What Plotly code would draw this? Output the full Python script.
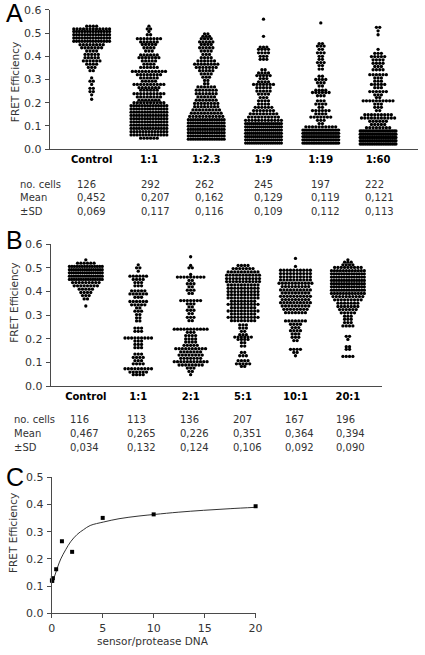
import plotly.graph_objects as go

W, H = 425, 655

# ---------------- data ----------------
a_categories = ["Control", "1:1", "1:2.3", "1:9", "1:19", "1:60"]
a_n = ["126", "292", "262", "245", "197", "222"]
a_mean = ["0,452", "0,207", "0,162", "0,129", "0,119", "0,121"]
a_sd = ["0,069", "0,117", "0,116", "0,109", "0,112", "0,113"]

# rows of dots: (FRET value of the row, number of dots in that row)
a_control = [(0.530,4),(0.518,12),(0.507,14),(0.493,14),(0.479,14),(0.465,14),(0.450,8),(0.437,7),(0.423,4),
             (0.408,5),(0.394,5),(0.380,6),(0.366,4),(0.352,3),(0.338,2),(0.307,1),(0.293,2),(0.279,1),
             (0.262,2),(0.248,2),(0.234,1),(0.215,1)]
a_1_1 = [(0.530,1),(0.518,2),(0.507,1),(0.493,2),(0.476,8),(0.462,6),(0.451,5),(0.437,4),(0.423,3),(0.406,6),
         (0.394,7),(0.380,5),(0.366,4),(0.352,6),(0.335,11),(0.321,8),(0.307,6),(0.293,5),(0.279,10),(0.265,7),
         (0.254,6),(0.239,10),(0.225,8),(0.211,7),(0.200,10),(0.187,14),(0.173,14),(0.159,14),(0.145,14),
         (0.131,14),(0.117,14),(0.103,14),(0.089,14),(0.075,13),(0.061,13),(0.047,6)]
a_1_2_3 = [(0.497,2),(0.486,3),(0.476,4),(0.462,5),(0.451,4),(0.437,5),(0.423,4),(0.408,3),(0.394,4),(0.380,6),
           (0.366,8),(0.352,7),(0.338,5),(0.324,4),(0.310,3),(0.296,2),(0.282,2),(0.268,6),(0.254,7),(0.239,7),
           (0.225,6),(0.211,7),(0.197,8),(0.183,8),(0.169,9),(0.155,10),(0.141,11),(0.127,16),(0.113,16),
           (0.099,16),(0.085,16),(0.071,16),(0.057,16),(0.043,16)]
a_1_9 = [(0.560,1),(0.486,1),(0.440,3),(0.430,4),(0.415,4),(0.400,3),(0.387,3),(0.342,2),(0.328,4),(0.317,5),
         (0.304,3),(0.290,4),(0.279,7),(0.265,5),(0.250,5),(0.237,4),(0.222,3),(0.208,4),(0.194,4),(0.180,6),
         (0.166,7),(0.152,9),(0.138,10),(0.124,12),(0.110,19),(0.096,19),(0.082,19),(0.068,19),(0.054,19),
         (0.040,19),(0.026,18)]
a_1_19 = [(0.544,1),(0.455,2),(0.444,3),(0.430,2),(0.415,3),(0.400,2),(0.387,2),(0.373,3),(0.360,2),(0.345,2),
          (0.314,2),(0.300,4),(0.286,3),(0.272,2),(0.254,4),(0.244,6),(0.230,3),(0.208,3),(0.194,4),(0.180,2),
          (0.166,6),(0.152,4),(0.138,7),(0.124,3),(0.110,2),(0.096,10),(0.082,22),(0.068,22),(0.054,22),
          (0.040,22),(0.026,22)]
a_1_60 = [(0.525,2),(0.510,1),(0.493,1),(0.430,1),(0.413,3),(0.399,5),(0.385,4),(0.370,4),(0.356,3),(0.342,4),
          (0.321,6),(0.307,3),(0.293,3),(0.279,5),(0.265,3),(0.248,6),(0.234,3),(0.222,2),(0.208,10),(0.194,3),
          (0.180,3),(0.166,2),(0.148,9),(0.134,11),(0.120,6),(0.106,5),(0.092,8),(0.078,22),(0.064,21),
          (0.050,21),(0.036,21),(0.022,21)]

b_categories = ["Control", "1:1", "2:1", "5:1", "10:1", "20:1"]
b_n = ["116", "113", "136", "207", "167", "196"]
b_mean = ["0,467", "0,265", "0,226", "0,351", "0,364", "0,394"]
b_sd = ["0,034", "0,132", "0,124", "0,106", "0,092", "0,090"]

b_control = [(0.534,1),(0.520,6),(0.506,14),(0.492,16),(0.479,16),(0.465,16),(0.451,15),(0.438,9),(0.424,8),
             (0.410,5),(0.396,4),(0.383,3),(0.369,2),(0.339,1)]
b_1_1 = [(0.513,1),(0.500,2),(0.486,1),(0.465,6),(0.451,4),(0.438,3),(0.424,3),(0.403,5),(0.390,6),(0.376,3),
         (0.358,6),(0.344,5),(0.331,2),(0.317,3),(0.303,2),(0.289,2),(0.276,2),(0.246,3),(0.232,3),(0.204,9),
         (0.191,3),(0.177,3),(0.163,3),(0.136,3),(0.122,4),(0.108,3),(0.095,4),(0.074,9),(0.060,6),(0.049,4)]
b_2_1 = [(0.547,1),(0.510,1),(0.500,2),(0.472,1),(0.461,9),(0.447,2),(0.433,3),(0.420,2),(0.406,3),(0.392,2),
         (0.362,7),(0.348,3),(0.335,2),(0.321,3),(0.307,2),(0.291,3),(0.277,2),(0.241,11),(0.228,3),(0.214,4),
         (0.200,4),(0.187,4),(0.173,5),(0.159,10),(0.145,7),(0.132,8),(0.118,7),(0.104,11),(0.090,8),(0.077,3),
         (0.063,2),(0.049,1)]
b_5_1 = [(0.510,4),(0.497,7),(0.483,10),(0.469,11),(0.455,11),(0.442,11),(0.428,10),(0.414,10),(0.400,10),
         (0.387,10),(0.373,10),(0.359,8),(0.346,10),(0.332,8),(0.318,10),(0.305,8),(0.291,10),(0.277,8),
         (0.259,3),(0.246,3),(0.232,2),(0.218,3),(0.208,6),(0.198,4),(0.184,2),(0.170,2),(0.143,2),(0.129,3),
         (0.108,4),(0.095,5),(0.084,2)]
b_10_1 = [(0.540,1),(0.506,1),(0.490,10),(0.476,10),(0.462,10),(0.449,10),(0.435,11),(0.421,9),(0.407,10),
          (0.394,9),(0.380,10),(0.366,9),(0.353,10),(0.339,9),(0.325,8),(0.311,7),(0.276,7),(0.262,4),(0.248,3),
          (0.235,4),(0.221,3),(0.207,3),(0.193,2),(0.156,4),(0.143,2),(0.129,1)]
b_20_1 = [(0.534,1),(0.524,3),(0.513,4),(0.502,9),(0.488,12),(0.475,14),(0.461,14),(0.447,14),(0.433,14),
          (0.420,14),(0.406,14),(0.392,12),(0.379,10),(0.365,9),(0.351,7),(0.337,7),(0.324,6),(0.310,5),
          (0.296,3),(0.283,3),(0.269,3),(0.255,4),(0.211,2),(0.198,1),(0.167,2),(0.156,2),(0.126,4)]

c_ratio = [0.0167, 0.0526, 0.111, 0.435, 1, 2, 5, 10, 20]
c_fret = [0.121, 0.119, 0.129, 0.162, 0.265, 0.226, 0.351, 0.364, 0.394]
c_fit_x = [0, 0.26, 0.58, 0.89, 1.37, 1.85, 2.49, 3.13, 3.77, 5.1, 6.6, 8.56, 10.16, 12.4, 14.9, 17.5, 20]
c_fit_y = [0.11, 0.134, 0.17, 0.2, 0.234, 0.263, 0.29, 0.308, 0.323, 0.336, 0.348, 0.358, 0.364, 0.372,
           0.379, 0.385, 0.39]

y_ticks_ab = [0, 0.1, 0.2, 0.3, 0.4, 0.5, 0.6]
y_ticks_c = [0, 0.1, 0.2, 0.3, 0.4, 0.5]
x_ticks_c = [0, 5, 10, 15, 20]

# ---------------- layout helpers ----------------
FONT = "DejaVu Sans"
AX = "#4a4a4a"
TXT = "#333333"


def px(x):
    return x / W


def py(y):
    return 1 - y / H


A_DOM_X = (47, 425); A_DOM_Y = (146, 4); A_RANGE = (-0.731, 5.697)
B_DOM_X = (48, 388); B_DOM_Y = (388, 243); B_RANGE = (-0.669, 5.65)
C_DOM_X = (49, 258.3); C_DOM_Y = (619.5, 481)
DOT_SPACING = 3.4   # px between neighbouring dots in a row
DOT_SIZE = 3.3


def swarm(groups, dom_x, rng, max_w):
    ppu = (dom_x[1] - dom_x[0]) / (rng[1] - rng[0])
    xs, ys = [], []
    for ci, rows in enumerate(groups):
        for yv, c in rows:
            s = DOT_SPACING
            if c > 1:
                s = min(DOT_SPACING, (max_w - DOT_SIZE) / (c - 1))
            dx = s / ppu
            for j in range(c):
                xs.append(ci + (j - (c - 1) / 2) * dx)
                ys.append(yv)
    return xs, ys


fig = go.Figure()

ax_, ay_ = swarm([a_control, a_1_1, a_1_2_3, a_1_9, a_1_19, a_1_60], A_DOM_X, A_RANGE, 40)
bx_, by_ = swarm([b_control, b_1_1, b_2_1, b_5_1, b_10_1, b_20_1], B_DOM_X, B_RANGE, 37)

dot = dict(color="black", size=DOT_SIZE, line=dict(width=0))
fig.add_trace(go.Scatter(x=ax_, y=ay_, mode="markers", marker=dot, xaxis="x", yaxis="y",
                         showlegend=False, hoverinfo="skip", cliponaxis=False))
fig.add_trace(go.Scatter(x=bx_, y=by_, mode="markers", marker=dot, xaxis="x2", yaxis="y2",
                         showlegend=False, hoverinfo="skip", cliponaxis=False))
fig.add_trace(go.Scatter(x=c_fit_x, y=c_fit_y, mode="lines", line=dict(color="#333", width=1, shape="spline"),
                         xaxis="x3", yaxis="y3", showlegend=False, hoverinfo="skip", cliponaxis=False))
fig.add_trace(go.Scatter(x=c_ratio, y=c_fret, mode="markers",
                         marker=dict(symbol="square", size=4, color="black", line=dict(width=0)),
                         xaxis="x3", yaxis="y3", showlegend=False, hoverinfo="skip", cliponaxis=False))

common_y = dict(showline=True, linecolor=AX, linewidth=1, ticks="outside", ticklen=4, tickcolor=AX,
                tickwidth=1, showgrid=False, zeroline=False, tickformat=".1f",
                tickfont=dict(family=FONT, size=11, color=TXT), ticklabelstandoff=1)
cat_x = dict(showline=True, linecolor=AX, linewidth=1, ticks="", showgrid=False, zeroline=False,
             tickfont=dict(family=FONT, size=10, color="black"), tickvals=list(range(6)))

fig.update_layout(
    width=W, height=H, margin=dict(l=0, r=0, t=0, b=0), autosize=False,
    paper_bgcolor="white", plot_bgcolor="white",
    xaxis=dict(domain=[px(A_DOM_X[0]), px(A_DOM_X[1])], range=list(A_RANGE), anchor="y",
               ticktext=["<b>%s</b>" % c for c in a_categories], ticklabelstandoff=1, **cat_x),
    yaxis=dict(domain=[py(A_DOM_Y[0]), py(A_DOM_Y[1])], range=[0, 0.6], anchor="x",
               tickvals=y_ticks_ab, **common_y),
    xaxis2=dict(domain=[px(B_DOM_X[0]), px(B_DOM_X[1])], range=list(B_RANGE), anchor="y2",
                ticktext=["<b>%s</b>" % c for c in b_categories], ticklabelstandoff=1, **cat_x),
    yaxis2=dict(domain=[py(B_DOM_Y[0]), py(B_DOM_Y[1])], range=[0, 0.6], anchor="x2",
                tickvals=y_ticks_ab, **common_y),
    xaxis3=dict(domain=[px(C_DOM_X[0]), px(C_DOM_X[1])], range=[0, 20], anchor="y3",
                showline=True, linecolor=AX, linewidth=1, ticks="outside", ticklen=4, tickcolor=AX,
                showgrid=False, zeroline=False, tickvals=x_ticks_c,
                tickfont=dict(family=FONT, size=11, color=TXT), ticklabelstandoff=1),
    yaxis3=dict(domain=[py(C_DOM_Y[0]), py(C_DOM_Y[1])], range=[0, 0.5], anchor="x3",
                tickvals=y_ticks_c, **common_y),
)

ann = []


def text(x, y, s, size=10, color=TXT, xanchor="left", angle=0, family=FONT):
    ann.append(dict(x=px(x), y=py(y), xref="paper", yref="paper", text=s, showarrow=False,
                    xanchor=xanchor, yanchor="middle", textangle=angle,
                    font=dict(family=family, size=size, color=color)))


# panel letters
text(0, 7, "A", size=25, color="black", family="Liberation Sans")
text(0, 239, "B", size=25, color="black", family="Liberation Sans")
text(0, 481, "C", size=25, color="black", family="Liberation Sans")

# y titles
text(12, 78, "FRET Efficiency", size=10.5, xanchor="center", angle=-90)
text(10, 303, "FRET Efficiency", size=10.5, xanchor="center", angle=-90)
text(10, 538, "FRET Efficiency", size=10.5, xanchor="center", angle=-90)
text(153, 648, "sensor/protease DNA", size=10.5, xanchor="center")

# tables
a_cols = [73, 139, 194, 255, 313, 369]
a_rows_y = [182, 195.5, 209.5]
b_cols = [66, 124, 179, 233, 286, 339]
b_rows_y = [421.5, 436.5, 450.5]
for lab, yy in zip(["no. cells", "Mean", "±SD"], a_rows_y):
    text(14, yy, lab)
for lab, yy in zip(["no. cells", "Mean", "±SD"], b_rows_y):
    text(8, yy, lab)
for vals, yy in zip([a_n, a_mean, a_sd], a_rows_y):
    for v, xx in zip(vals, a_cols):
        text(xx, yy, v)
for vals, yy in zip([b_n, b_mean, b_sd], b_rows_y):
    for v, xx in zip(vals, b_cols):
        text(xx, yy, v)

fig.update_layout(annotations=ann)

fig.write_html("out.html", config={"displayModeBar": False},
               post_script="document.body.style.margin='0';document.body.style.overflow='hidden';")
